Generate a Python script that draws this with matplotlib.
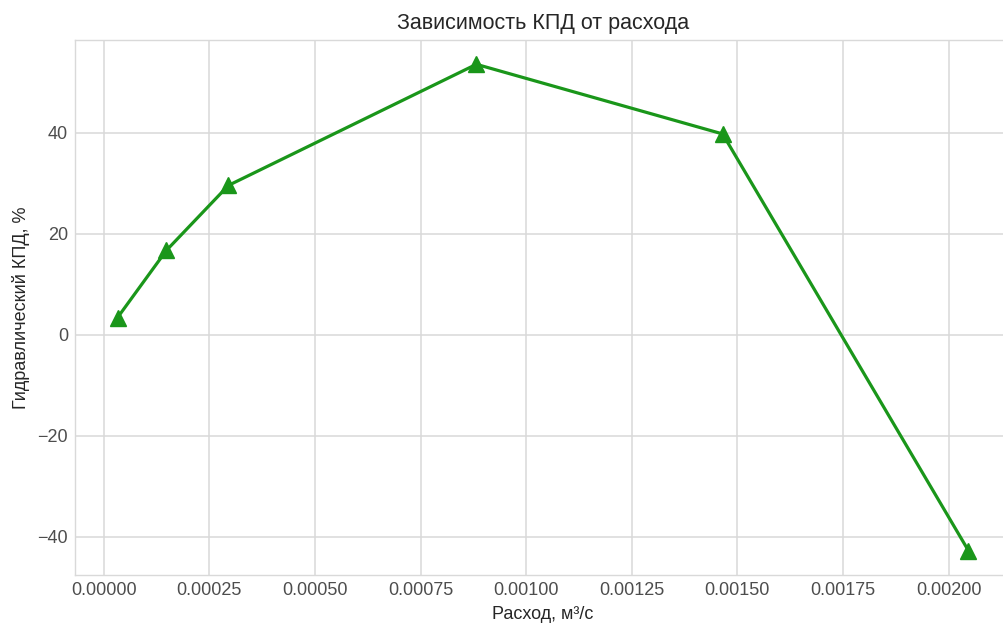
import matplotlib
matplotlib.use("Agg")
import matplotlib.pyplot as plt

# расход, м³/с и гидравлический КПД, %
flow = [0.0000325, 0.000148, 0.000295, 0.000882, 0.001465, 0.002047]
eff = [3.4, 16.7, 29.6, 53.6, 39.8, -42.8]

plt.style.use("seaborn-v0_8-whitegrid")
plt.rcParams["font.family"] = ["Liberation Sans", "DejaVu Sans"]

fig = plt.figure(figsize=(10.04, 6.24), dpi=100)
ax = fig.add_axes([75 / 1004, 49 / 624, 936 / 1004, 535 / 624])

ax.plot(flow, eff, color="#1a961a", marker="^", markersize=11, linewidth=2.3)

ax.set_title("Зависимость КПД от расхода", fontsize=15.5, color="0.15", pad=8)
ax.set_xlabel("Расход, м³/с", fontsize=13, color="0.15", labelpad=5)
ax.set_ylabel("Гидравлический КПД, %", fontsize=13, color="0.15", labelpad=5.5)
ax.tick_params(labelsize=13, labelcolor="0.3", pad=5)
ax.grid(color="0.85", linewidth=1.1)
for s in ax.spines.values():
    s.set_visible(True)
    s.set_color("0.85")

fig.savefig("out.png", dpi=100)
